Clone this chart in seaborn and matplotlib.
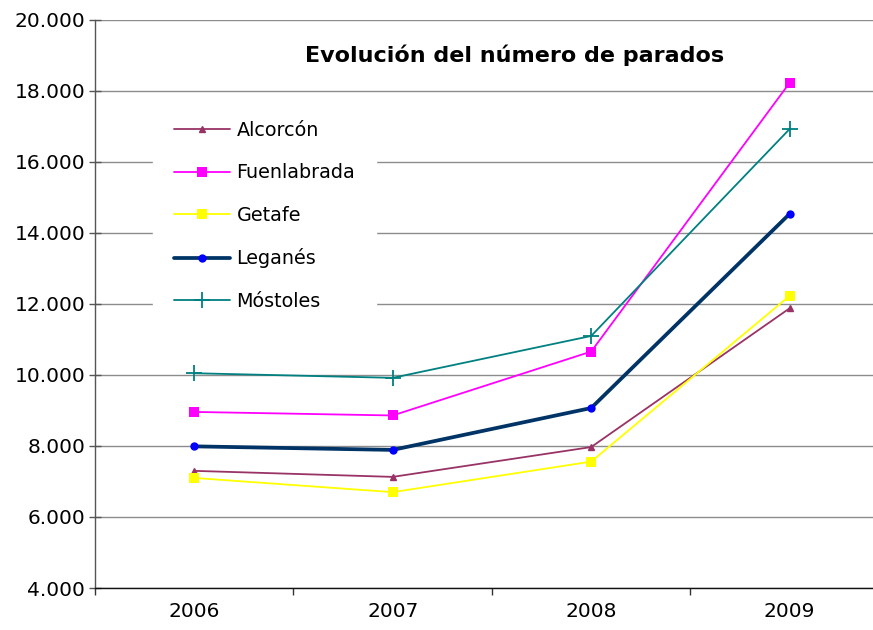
import matplotlib
matplotlib.use('Agg')
import matplotlib.pyplot as plt
import numpy as np
import pandas as pd
import seaborn as sns
from matplotlib.ticker import FixedLocator, FuncFormatter

years = ['2006', '2007', '2008', '2009']
alcorcon = [7300, 7130, 7970, 11880]
fuenlabrada = [8960, 8860, 10660, 18230]
getafe = [7100, 6700, 7560, 12230]
leganes = [7990, 7890, 9070, 14540]
mostoles = [10050, 9920, 11100, 16930]

names = ['Alcorcón', 'Fuenlabrada', 'Getafe', 'Leganés', 'Móstoles']
series = [alcorcon, fuenlabrada, getafe, leganes, mostoles]

# estilo de cada serie (como en Excel)
styles = {
    'Alcorcón': dict(color='#993366', lw=1.3, marker='^', ms=4.5, mfc='#993366', mec='#993366', mew=1),
    'Fuenlabrada': dict(color='#FF00FF', lw=1.3, marker='s', ms=7.5, mfc='#FF00FF', mec='#FF00FF', mew=0),
    'Getafe': dict(color='#FFFF00', lw=1.3, marker='s', ms=7.5, mfc='#FFFF00', mec='#FFFF00', mew=0),
    'Leganés': dict(color='#003366', lw=2.7, marker='o', ms=6, mfc='#0000FF', mec='#0000FF', mew=0),
    'Móstoles': dict(color='#008080', lw=1.3, marker='+', ms=11, mfc='#008080', mec='#008080', mew=1.3),
}

df = pd.DataFrame({'year': np.tile(np.arange(len(years)), len(names)),
                   'city': np.repeat(names, len(years)),
                   'parados': np.concatenate(series)})

sns.set_style('white')
plt.rcParams['font.family'] = ['DejaVu Sans']
plt.rcParams['text.color'] = 'black'
plt.rcParams['xtick.color'] = 'black'
plt.rcParams['ytick.color'] = 'black'

fig = plt.figure(figsize=(8.73, 6.30), dpi=100)
ax = fig.add_axes([95 / 873, 1 - 588 / 630, 1 - 95 / 873, (588 - 20) / 630])

for name in names:
    st = styles[name]
    sub = df[df['city'] == name]
    sns.lineplot(data=sub, x='year', y='parados', ax=ax, label=name,
                 color=st['color'], linewidth=st['lw'], marker=st['marker'],
                 markersize=st['ms'], markerfacecolor=st['mfc'],
                 markeredgecolor=st['mec'], markeredgewidth=st['mew'])

ax.set_ylim(4000, 20000)
ax.set_xlim(-0.5, 3.42)
ax.set_yticks(np.arange(4000, 20001, 2000))
ax.yaxis.set_major_formatter(FuncFormatter(lambda v, p: f'{v:,.0f}'.replace(',', '.')))
ax.grid(axis='y', color='#8c8c8c', lw=1)
ax.set_axisbelow(True)

ax.xaxis.set_major_locator(FixedLocator([-0.5, 0.5, 1.5, 2.5, 3.5]))
ax.xaxis.set_major_formatter(FuncFormatter(lambda v, p: ''))
ax.xaxis.set_minor_locator(FixedLocator(range(len(years))))
ax.set_xticks(range(len(years)), years, minor=True)
ax.tick_params(axis='x', which='major', direction='out', length=5, width=1, color='#333333', bottom=True)
ax.tick_params(axis='x', which='minor', length=0, pad=10, labelsize=14.5, labelcolor='black')
ax.tick_params(axis='y', direction='inout', length=8, width=1, color='#555555', left=True, pad=3,
               labelsize=14.5, labelcolor='black')

ax.set_xlabel('')
ax.set_ylabel('')
for s in ['top', 'right']:
    ax.spines[s].set_visible(False)
ax.spines['left'].set_color('#555555')
ax.spines['bottom'].set_color('#111111')
ax.spines['left'].set_linewidth(1)
ax.spines['bottom'].set_linewidth(1)

leg = ax.legend(loc='upper left', bbox_to_anchor=(153 / 873, 1 - 100 / 630),
                bbox_transform=fig.transFigure, frameon=True, fancybox=False,
                fontsize=13.8, handlelength=2.9, handletextpad=0.35,
                labelspacing=1.22, borderpad=1.1, borderaxespad=0)
leg.get_frame().set_facecolor('white')
leg.get_frame().set_edgecolor('white')
leg.get_frame().set_alpha(1)
for t in leg.get_texts():
    t.set_color('black')

fig.text(515 / 873, 1 - 55 / 630, 'Evolución del número de parados',
         ha='center', va='center', fontsize=16, fontweight='bold', color='black')

fig.savefig('out.png', dpi=100)
